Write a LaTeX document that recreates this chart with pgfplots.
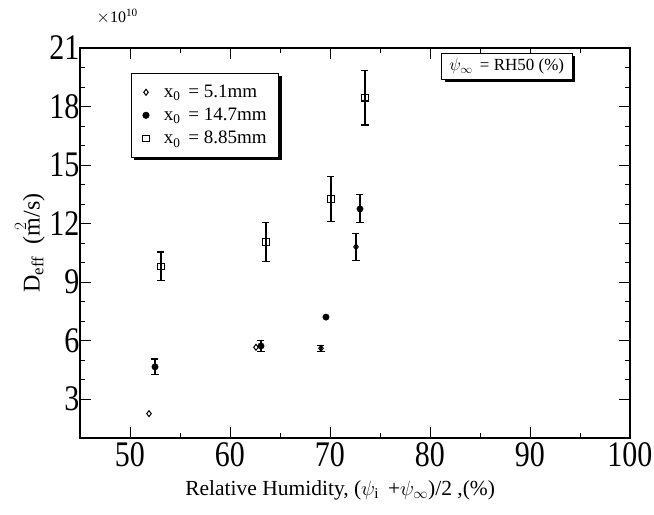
\documentclass[border=0pt]{standalone}
\usepackage{fontspec}
\setmainfont{Liberation Serif}
\usepackage{graphicx}
\usepackage{pgfplots}
\usepackage{pgfplotstable}
\pgfplotsset{compat=1.18}
\usetikzlibrary{shadows}

\pgfplotstableread{
x y ey
69.1 5.6 0.15
72.6 10.8 0.7
}\tabA
\pgfplotstableread{
x y ey
52.5 4.65 0.40
63.1 5.72 0.30
73.0 12.75 0.72
}\tabB
\pgfplotstableread{
x y ey
53.1 9.80 0.74
63.6 11.05 0.98
70.1 13.25 1.17
73.5 18.45 1.40
}\tabC

\begin{document}
\begin{tikzpicture}
\begin{axis}[
  scale only axis,
  width=550bp, height=390bp,
  xmin=45, xmax=100, ymin=1, ymax=21,
  xtick={50,60,...,100}, ytick={3,6,...,21},
  minor x tick num=1, minor y tick num=2,
  major tick length=11bp, minor tick length=5bp,
  axis line style={line width=1.1bp},
  every tick/.style={black, line width=0.9bp},
  /pgf/number format/assume math mode=true,
  xticklabel={\scalebox{1}[1.2]{\pgfmathprintnumber{\tick}}},
  yticklabel={\scalebox{1}[1.2]{\pgfmathprintnumber{\tick}}},
  tick label style={font=\fontsize{30bp}{31bp}\selectfont},
  xticklabel style={inner sep=1bp, yshift=-3bp},
  yticklabel style={inner sep=0.5bp},
  xlabel={Relative Humidity, ($\psi_{\mathrm{i}}$ \,+$\psi_\infty$)/2 ,(\%)},
  ylabel={D\textsubscript{eff}\ \ ($\stackrel{2}{\mbox{m}}$/s)},
  xlabel style={font=\fontsize{21.5bp}{23bp}\selectfont, at={(axis description cs:0.473,-0.133)}, anchor=center},
  ylabel style={font=\fontsize{24bp}{26bp}\selectfont, at={(axis description cs:-0.092,0.5)}, anchor=center, rotate=0},
  legend style={at={(axis description cs:0.093,0.936)}, anchor=north west,
    draw=black, line width=0.6bp, fill=white,
    drop shadow={shadow xshift=3bp, shadow yshift=-3bp, opacity=1, fill=black},
    font=\fontsize{19bp}{22bp}\selectfont, cells={anchor=west},
    inner xsep=10bp, inner ysep=10bp, row sep=5bp},
  legend image code/.code={\draw[#1] plot coordinates {(0.15cm,0cm)};
     \path (0cm,0cm) (0.7cm,0cm);},
  clip=false,
]
% x0 = 5.1 mm (open diamonds)
\addplot[only marks, mark=diamond, mark size=3bp, mark options={fill=white, line width=1bp},
  error bars/.cd, y dir=both, y explicit,
  error bar style={line width=1.1bp}, error mark options={rotate=90, mark size=3.5bp, line width=1.1bp}]
  table[x=x, y=y, y error=ey]{\tabA};
\addlegendentry{x\textsubscript{0} \,= 5.1mm}
% x0 = 14.7 mm (filled circles)
\addplot[only marks, mark=*, mark size=3.2bp, mark options={fill=black},
  error bars/.cd, y dir=both, y explicit,
  error bar style={line width=1.1bp}, error mark options={rotate=90, mark size=3.5bp, line width=1.1bp}]
  table[x=x, y=y, y error=ey]{\tabB};
\addlegendentry{x\textsubscript{0} \,= 14.7mm}
% x0 = 8.85 mm (open squares)
\addplot[only marks, mark=square, mark size=3.3bp, mark options={fill=white, line width=1.1bp},
  error bars/.cd, y dir=both, y explicit,
  error bar style={line width=1.1bp}, error mark options={rotate=90, mark size=3.5bp, line width=1.1bp}]
  table[x=x, y=y, y error=ey]{\tabC};
\addlegendentry{x\textsubscript{0} \,= 8.85mm}
% points without error bars
\addplot[forget plot, only marks, mark=diamond, mark size=3bp, mark options={fill=white, line width=1bp}]
  coordinates {(51.9,2.25) (62.6,5.65)};
\addplot[forget plot, only marks, mark=*, mark size=3.2bp, mark options={fill=black}]
  coordinates {(69.6,7.2)};

\node[draw=black, line width=0.6bp, fill=white,
      drop shadow={shadow xshift=3bp, shadow yshift=-3bp, opacity=1, fill=black},
      minimum width=130bp, minimum height=26bp, inner sep=2bp,
      font=\fontsize{17bp}{19bp}\selectfont]
  at (axis description cs:0.776,0.953) {$\psi_\infty$ \,= RH50 (\%)};
\node[anchor=south west, inner sep=0pt, font=\fontsize{16bp}{17bp}\selectfont]
  at (axis description cs:0.03,1) [yshift=24bp] {$\times$10\textsuperscript{10}};
\end{axis}
\pgfresetboundingbox
\path (-80bp,-77bp) rectangle (574bp,438bp);
\end{tikzpicture}
\end{document}
